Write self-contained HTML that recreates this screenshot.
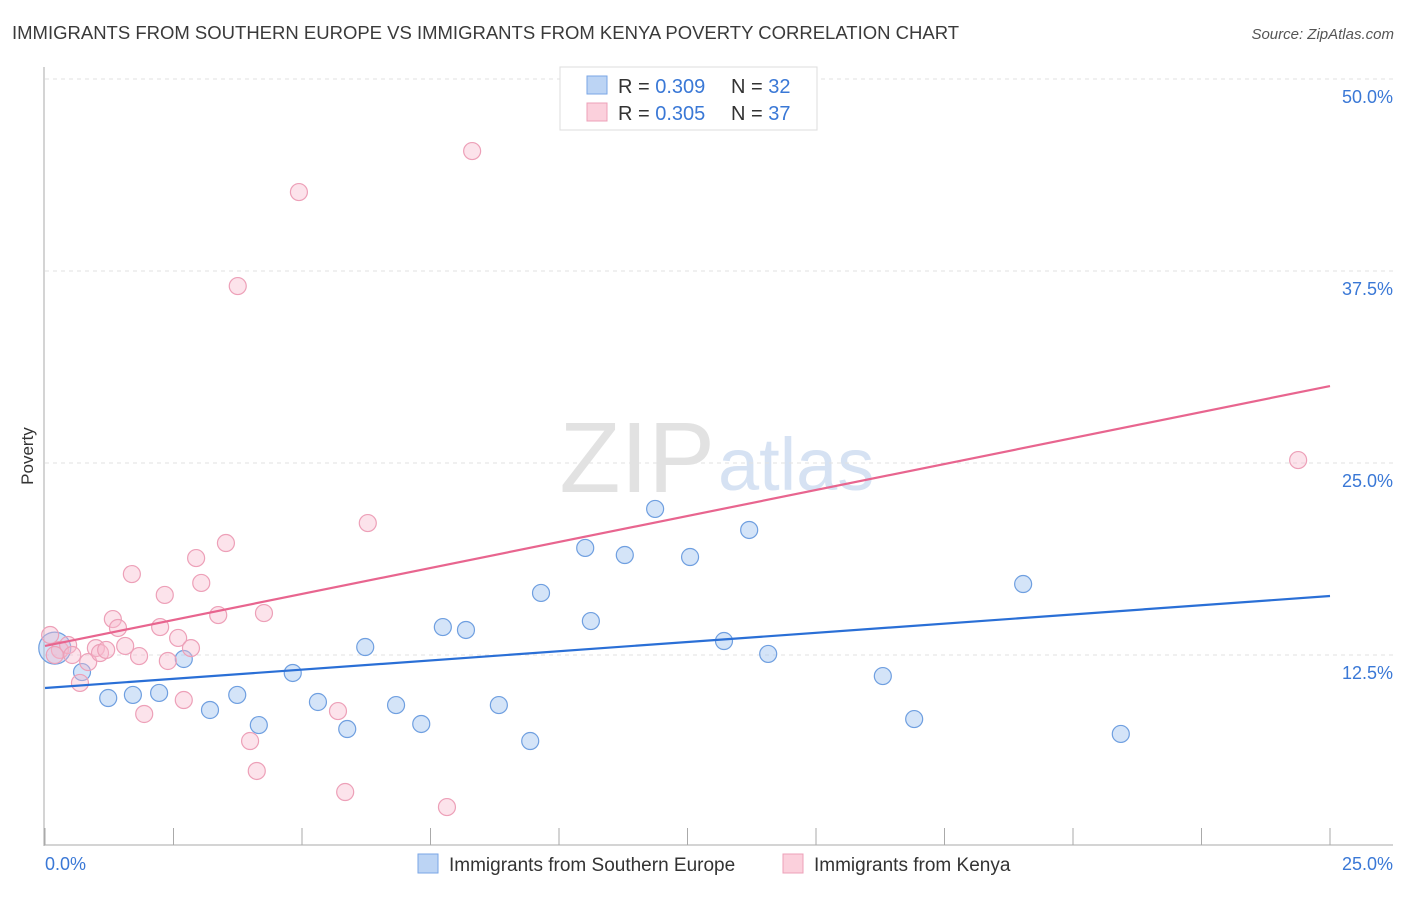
<!DOCTYPE html>
<html><head><meta charset="utf-8"><style>
body{margin:0;background:#fff;font-family:"Liberation Sans",sans-serif;}
svg text{font-family:"Liberation Sans",sans-serif;}
</style></head><body>
<svg id="c" width="1406" height="892">
<text x="12" y="39" font-size="18.5" fill="#3a3a3a">IMMIGRANTS FROM SOUTHERN EUROPE VS IMMIGRANTS FROM KENYA POVERTY CORRELATION CHART</text>
<text x="1394" y="39" font-size="15" fill="#555" text-anchor="end" font-style="italic">Source: ZipAtlas.com</text>
<text x="715" y="492" font-size="100" fill="#e2e2e2" text-anchor="end" font-family="Liberation Serif">ZIP</text>
<text x="718" y="490" font-size="74" fill="#d6e2f3">atlas</text>
<text x="33" y="456" font-size="17" fill="#333" text-anchor="middle" transform="rotate(-90 33 456)">Poverty</text>
<g id="grid"></g><g id="marks"></g>
<g>
<rect x="560" y="67" width="257" height="63" fill="#fff" stroke="#ddd"/>
<rect x="587" y="76" width="20" height="18" fill="#bcd4f4" stroke="#7aa6e6"/>
<rect x="587" y="103" width="20" height="18" fill="#fbd0dc" stroke="#eda0b8"/>
<text x="618" y="93" font-size="20" fill="#333">R = <tspan fill="#3a78d6">0.309</tspan></text>
<text x="731" y="93" font-size="20" fill="#333">N = <tspan fill="#3a78d6">32</tspan></text>
<text x="618" y="120" font-size="20" fill="#333">R = <tspan fill="#3a78d6">0.305</tspan></text>
<text x="731" y="120" font-size="20" fill="#333">N = <tspan fill="#3a78d6">37</tspan></text>
</g>
<g>
<rect x="418" y="854" width="20" height="19" fill="#bcd4f4" stroke="#7aa6e6"/>
<text x="449" y="871" font-size="19" fill="#333">Immigrants from Southern Europe</text>
<rect x="783" y="854" width="20" height="19" fill="#fbd0dc" stroke="#eda0b8"/>
<text x="814" y="871" font-size="19" fill="#333">Immigrants from Kenya</text>
</g>
<text x="45" y="870" font-size="18" fill="#3a78d6">0.0%</text>
<text x="1393" y="870" font-size="18" fill="#3a78d6" text-anchor="end">25.0%</text>
</svg>
<script>
const yTicks=[12.5,25,37.5,50];
const yTickLabels=["12.5%","25.0%","37.5%","50.0%"];
const blueX=[0.19,0.72,1.23,1.71,2.22,2.70,3.21,3.74,4.16,4.82,5.31,5.88,6.23,6.83,7.32,7.74,8.19,8.83,9.44,9.65,10.51,10.62,11.28,11.87,12.55,13.21,13.70,14.07,16.30,16.91,19.03,20.93];
const blueY=[12.95,11.39,9.70,9.90,10.03,12.24,8.92,9.90,7.94,11.33,9.44,7.68,13.02,9.24,8.01,14.32,14.13,9.24,6.90,16.54,19.47,14.71,19.01,22.01,18.88,13.41,20.64,12.57,11.13,8.33,17.12,7.36];
const pinkX=[0.10,0.29,0.45,0.68,0.84,0.99,1.07,1.19,1.32,1.42,1.56,1.69,1.83,1.93,2.24,2.33,2.39,2.59,2.70,2.84,2.94,3.04,3.37,3.52,3.75,3.99,4.12,4.26,4.94,5.70,5.84,6.28,7.82,8.31,24.38,0.53,0.19];
const pinkY=[13.80,12.83,13.15,10.68,12.04,12.95,12.63,12.83,14.84,14.26,13.09,17.77,12.43,8.66,14.32,16.41,12.11,13.61,9.57,12.95,18.81,17.19,15.10,19.79,36.52,6.90,4.95,15.23,42.64,8.85,3.58,21.09,2.60,45.31,25.19,12.50,12.50];
const blueTrend=[10.35,16.34];
const pinkTrend=[13.09,30.01];
const NS="http://www.w3.org/2000/svg";
const X=v=>45+v/25*1285, Y=v=>847-v/12.5*192;
function mk(t,a,p){const e=document.createElementNS(NS,t);for(const k in a)e.setAttribute(k,a[k]);p.appendChild(e);return e;}
const g=document.getElementById('grid'), m=document.getElementById('marks');
yTicks.forEach((t,i)=>{
 const l=mk('line',{x1:45,x2:1393,y1:Y(t),y2:Y(t),stroke:'#e2e2e2','stroke-dasharray':'4 4'},g);
 
 
 const tx=mk('text',{x:1393,y:Y(t)+24,'font-size':18,fill:'#3a78d6','text-anchor':'end'},g);
 tx.textContent=yTickLabels[i];
 
 
});
const ax=mk('line',{x1:44,x2:44,y1:67,y2:846,stroke:'#aaa'},g);


const bx=mk('line',{x1:44,x2:1393,y1:845,y2:845,stroke:'#aaa'},g);


for(let i=0;i<=10;i++){const t=mk('line',{x1:X(i*2.5),x2:X(i*2.5),y1:828,y2:845,stroke:'#aaa'},g);
 
 }
function pts(xs,ys,fill,stroke,name){xs.forEach((x,i)=>{
 const r=(name==='blue-point'&&i===0)?16:8.5;
 const c=mk('circle',{cx:X(x),cy:Y(ys[i]),r:r,fill:fill,stroke:stroke,'stroke-width':1.2},m);
 
 });}
pts(blueX,blueY,'rgba(160,195,240,0.45)','#6f9fe0','blue-point');
pts(pinkX,pinkY,'rgba(248,185,205,0.4)','#eda0b8','pink-point');
const bt=mk('line',{x1:X(0),x2:X(25),y1:Y(blueTrend[0]),y2:Y(blueTrend[1]),stroke:'#2a6fd6','stroke-width':2.2},m);


const pt=mk('line',{x1:X(0),x2:X(25),y1:Y(pinkTrend[0]),y2:Y(pinkTrend[1]),stroke:'#e8658f','stroke-width':2.2},m);


</script>
</body></html>
